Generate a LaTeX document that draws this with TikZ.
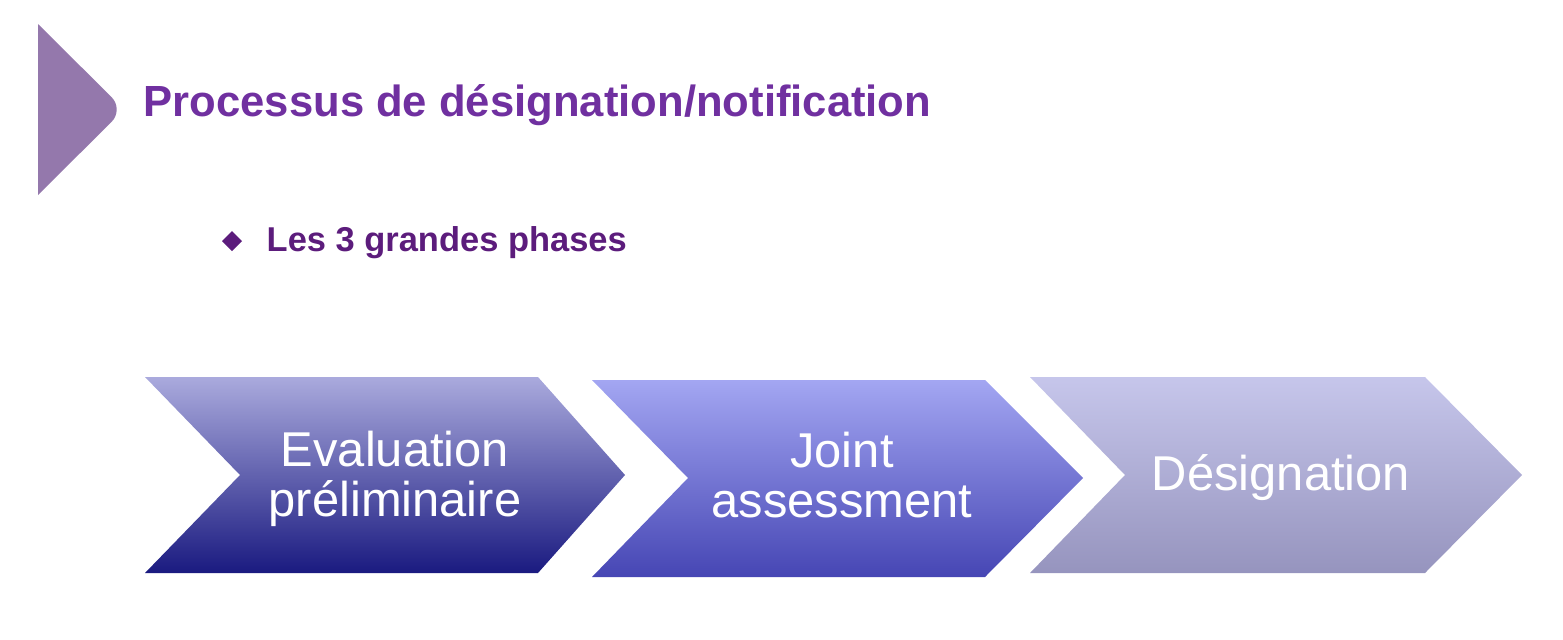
\documentclass[tikz,border=0pt]{standalone}
\usepackage{fontspec}
\setmainfont{Liberation Sans}
\definecolor{titlepurple}{RGB}{112,48,160}
\definecolor{bulletpurple}{RGB}{92,28,124}
\definecolor{markerpurple}{RGB}{148,120,172}
\definecolor{evaltop}{RGB}{170,170,221}
\definecolor{evalmid}{RGB}{120,120,184}
\definecolor{evalbot}{RGB}{26,26,128}
\definecolor{jointtop}{RGB}{163,166,242}
\definecolor{jointbot}{RGB}{70,70,180}
\definecolor{desigtop}{RGB}{198,198,235}
\definecolor{desigbot}{RGB}{150,148,190}
\begin{document}
\begin{tikzpicture}[x=0.01cm, y=-0.01cm,
    phase/.style={text=white, inner sep=0pt, align=center, font=\fontsize{13.9}{14.2}\selectfont}]
    \useasboundingbox (0, 0) rectangle (1563, 639);
    % title marker
    \fill [markerpurple] (38, 24) [rounded corners=5pt] -- (124, 109.5) [sharp corners] -- (38, 195) -- cycle;
    \node [anchor=base west, inner sep=0pt, text=titlepurple, font=\fontsize{12.4}{14}\selectfont\bfseries] (title) at (143, 116) {Processus de désignation/notification};
    % bullet
    \fill [bulletpurple] (232, 231) -- (242, 241) -- (232, 251) -- (222, 241) -- cycle;
    \node [anchor=base west, inner sep=0pt, text=bulletpurple, font=\fontsize{9.8}{12}\selectfont\bfseries] (bullet) at (266, 251) {Les 3 grandes phases};
    % chevrons
    \shade [top color=evaltop, middle color=evalmid, bottom color=evalbot] (145, 377) -- (538, 377) -- (625, 475) -- (538, 573) -- (145, 573) -- (240, 475) -- cycle;
    \shade [top color=jointtop, bottom color=jointbot] (592, 380) -- (985, 380) -- (1083, 478) -- (985, 577) -- (592, 577) -- (688, 478) -- cycle;
    \shade [top color=desigtop, bottom color=desigbot] (1030, 377) -- (1425, 377) -- (1522, 475) -- (1425, 573) -- (1030, 573) -- (1125, 475) -- cycle;
    \node [phase] (eval) at (395, 479) {Evaluation\\préliminaire};
    \node [phase] (joint) at (842, 475) {Joint\\assessment};
    \node [phase, anchor=base] (desig) at (1281, 490) {Désignation};
\end{tikzpicture}
\end{document}
